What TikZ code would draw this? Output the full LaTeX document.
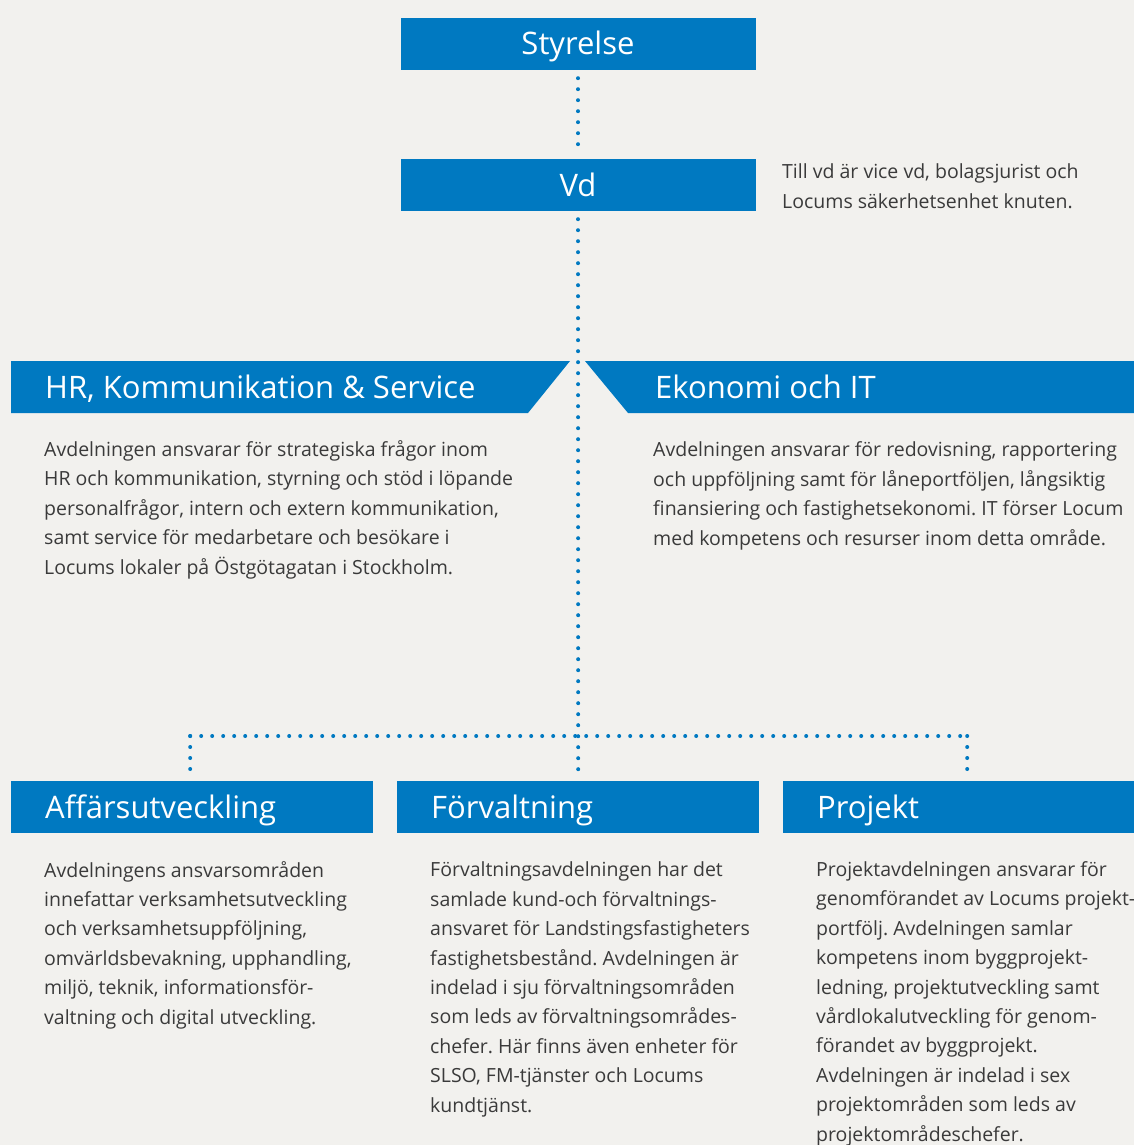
\documentclass[tikz,border=0pt]{standalone}
\usepackage{fontspec}
\setmainfont{Open Sans}
\usepackage{xcolor}
\usetikzlibrary{positioning, calc}
\frenchspacing

\definecolor{locumblue}{HTML}{0079C1}
\definecolor{paper}{HTML}{F2F1EE}
\definecolor{bodygray}{HTML}{3A3A3A}

\tikzset{
  orgbox/.style={fill=locumblue, text=white, inner sep=0pt,
    minimum width=355pt, minimum height=52pt,
    text height=22pt, text depth=0pt, font=\fontsize{31}{36}\selectfont},
  deptbox/.style={fill=locumblue, text=white, anchor=north west,
    inner xsep=34pt, inner ysep=0pt, text width=294pt, align=left,
    minimum height=52pt, text height=22pt, text depth=0pt,
    font=\fontsize{31}{36}\selectfont},
  depttitle/.style={text=white, anchor=base west, inner sep=0pt,
    font=\fontsize{31}{36}\selectfont},
  % base of a multi-line node is its last line
  deptinfo/.style={text=bodygray, anchor=base west, inner sep=0pt,
    align=left, font=\fontsize{19.5}{29.4}\selectfont},
  dotline/.style={locumblue, line width=4pt, line cap=round,
    dash pattern=on 0pt off 11pt},
}

\begin{document}
\begin{tikzpicture}[x=1pt, y=-1pt]
    % Page
    \fill[paper] (0,0) rectangle (1134,1145);
    \useasboundingbox (0,0) rectangle (1134,1145);

    % Board and CEO
    \node[orgbox] (styrelse) at (578,44) {Styrelse};
    \node[orgbox] (vd) at (578,185) {Vd};
    \node[deptinfo] (vdnote) at (782,208) {Till vd är vice vd, bolagsjurist och\\Locums säkerhetsenhet knuten.};

    % Staff departments
    \fill[locumblue] (11,361) -- (570,361) -- (528,413) -- (11,413) -- cycle;
    \fill[locumblue] (585,361) -- (1134,361) -- (1134,413) -- (628,413) -- cycle;
    \node[depttitle] (hr) at (45,398) {HR, Kommunikation \& Service};
    \node[depttitle] (ekonomi) at (655,398) {Ekonomi och IT};
    \node[deptinfo] (hrtext) at (44,574) {Avdelningen ansvarar för strategiska frågor inom\\HR och kommunikation, styrning och stöd i löpande\\personalfrågor, intern och extern kommunikation,\\samt service för medarbetare och besökare i\\Locums lokaler på Östgötagatan i Stockholm.};
    \node[deptinfo] (ekonomitext) at (653,545) {Avdelningen ansvarar för redovisning, rapportering\\och uppföljning samt för låneportföljen, långsiktig\\finansiering och fastighetsekonomi. IT förser Locum\\med kompetens och resurser inom detta område.};

    % Line departments
    \node[deptbox] (affar) at (11,781) {Affärsutveckling};
    \node[deptbox] (forv) at (397,781) {Förvaltning};
    \node[deptbox] (proj) at (783,781) {Projekt};
    \node[deptinfo] (affartext) at (44,1024) {Avdelningens ansvarsområden\\innefattar verksamhetsutveckling\\och verksamhetsuppföljning,\\omvärldsbevakning, upphandling,\\miljö, teknik, informationsför-\\valtning och digital utveckling.};
    \node[deptinfo] (forvtext) at (430,1112) {Förvaltningsavdelningen har det\\samlade kund-och förvaltnings-\\ansvaret för Landstingsfastigheters\\fastighetsbestånd. Avdelningen är\\indelad i sju förvaltningsområden\\som leds av förvaltningsområdes-\\chefer. Här finns även enheter för\\SLSO, FM-tjänster och Locums\\kundtjänst.};
    \node[deptinfo] (projtext) at (816,1141) {Projektavdelningen ansvarar för\\genomförandet av Locums projekt-\\portfölj. Avdelningen samlar\\kompetens inom byggprojekt-\\ledning, projektutveckling samt\\vårdlokalutveckling för genom-\\förandet av byggprojekt.\\Avdelningen är indelad i sex\\projektområden som leds av\\projektområdeschefer.};

    % Reporting lines
    \coordinate (left) at ($(affar.north)+(-2,-45)$);
    \coordinate (right) at ($(proj.north)+(3,-45)$);
    \draw[dotline, shorten <=8pt, shorten >=4pt] (styrelse) -- (vd);
    \draw[dotline, shorten <=8pt, shorten >=6pt] (vd) -- (forv);
    \draw[dotline] (left) -- (right);
    \draw[dotline, shorten >=8pt] (left) -- (left |- affar.north);
    \draw[dotline, shorten >=8pt] (right) -- (right |- proj.north);
\end{tikzpicture}
\end{document}
